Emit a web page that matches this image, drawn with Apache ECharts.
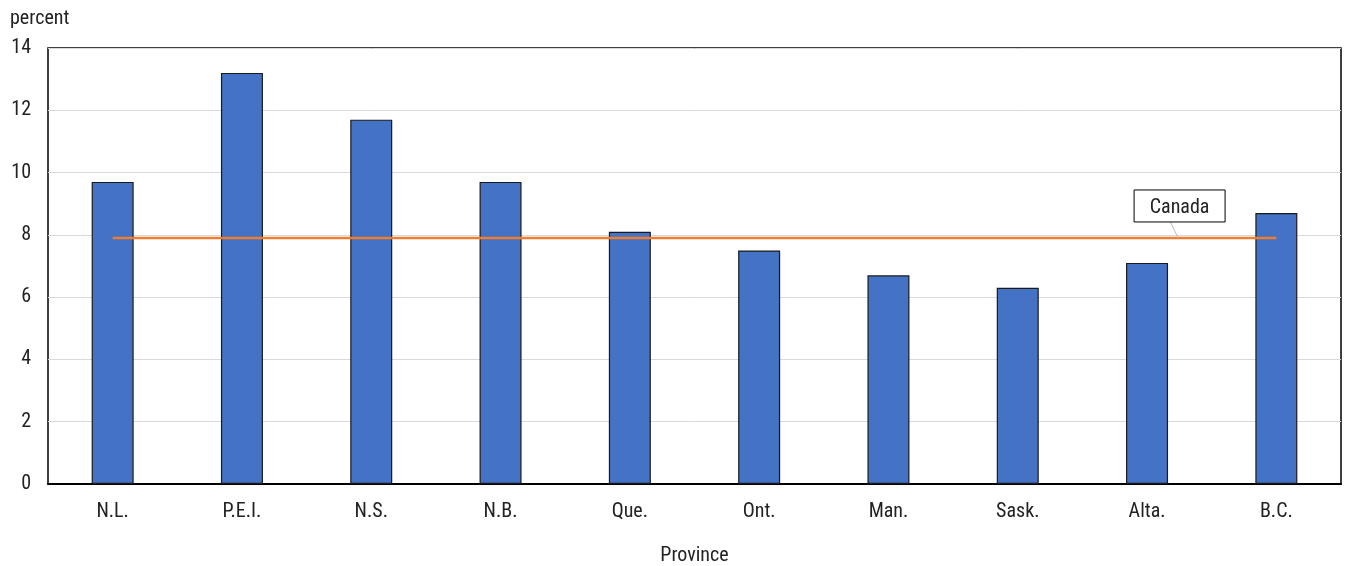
<!DOCTYPE html>
<html><head><meta charset="utf-8">
<script src="https://cdn.jsdelivr.net/npm/echarts@6/dist/echarts.min.js"></script>
<style>html,body{margin:0;padding:0;background:#fff}#c{width:1346px;height:566px}</style>
</head><body><div id="c"></div>
<script>
const categories = ['N.L.','P.E.I.','N.S.','N.B.','Que.','Ont.','Man.','Sask.','Alta.','B.C.'];
const provinceValues = [9.7,13.2,11.7,9.7,8.1,7.5,6.7,6.3,7.1,8.7];
const canadaValue = 7.9;
const canadaValues = categories.map(() => canadaValue);
const yTicks = [0,2,4,6,8,10,12,14];

const FONT = "'Liberation Sans Narrow','Roboto Condensed','Liberation Sans',sans-serif";
const FS = 20;
const chart = echarts.init(document.getElementById('c'));
chart.setOption({
  animation:false,
  grid:{left:48, right:5, top:48, bottom:82, containLabel:false, outerBoundsMode:'none',
        show:true, borderColor:'#000', borderWidth:1.5, backgroundColor:'transparent'},
  xAxis:{type:'category', data:categories, boundaryGap:true,
    name:'Province', nameLocation:'middle', nameGap:62,
    nameTextStyle:{fontFamily:FONT, fontSize:FS, color:'#222'},
    axisLine:{lineStyle:{color:'#000', width:2}}, axisTick:{show:false},
    axisLabel:{fontFamily:FONT, fontSize:FS, color:'#222', margin:18}},
  yAxis:{type:'value', min:yTicks[0], max:yTicks[yTicks.length-1], interval:2,
    name:'percent', nameLocation:'end', nameGap:19,
    nameTextStyle:{fontFamily:FONT, fontSize:FS, color:'#222', align:'left', padding:[0,0,0,-38]},
    axisLine:{show:false}, axisTick:{show:false},
    axisLabel:{fontFamily:FONT, fontSize:FS, color:'#222', margin:17},
    splitLine:{lineStyle:{color:'#d9d9d9', width:1}}},
  series:[
    {type:'bar', data:provinceValues, barWidth:42,
     itemStyle:{color:'#4472c4', borderColor:'#1a1a1a', borderWidth:1.2}},
    {type:'line', data:canadaValues, symbol:'none', z:5,
     lineStyle:{color:'#ed7d31', width:2.5}}
  ]
});

const pA = chart.convertToPixel({xAxisIndex:0,yAxisIndex:0}, ['Alta.', canadaValue]);
const pB = chart.convertToPixel({xAxisIndex:0,yAxisIndex:0}, ['B.C.', canadaValue]);
const ax = pA[0] + (pB[0]-pA[0])*0.24;
const ay = pA[1];
chart.setOption({graphic:[
  {type:'line', shape:{x1:ax, y1:ay, x2:ax-8, y2:ay-17}, style:{stroke:'#bbb', lineWidth:1}, z:10},
  {type:'rect', shape:{x:ax-44, y:ay-48, width:91, height:32}, style:{fill:'#fff', stroke:'#000', lineWidth:1}, z:11},
  {type:'text', x:ax+1.5, y:ay-30, style:{text:'Canada', font:FS+"px "+FONT, fill:'#222', textAlign:'center', textVerticalAlign:'middle'}, z:12}
]});
</script></body></html>
